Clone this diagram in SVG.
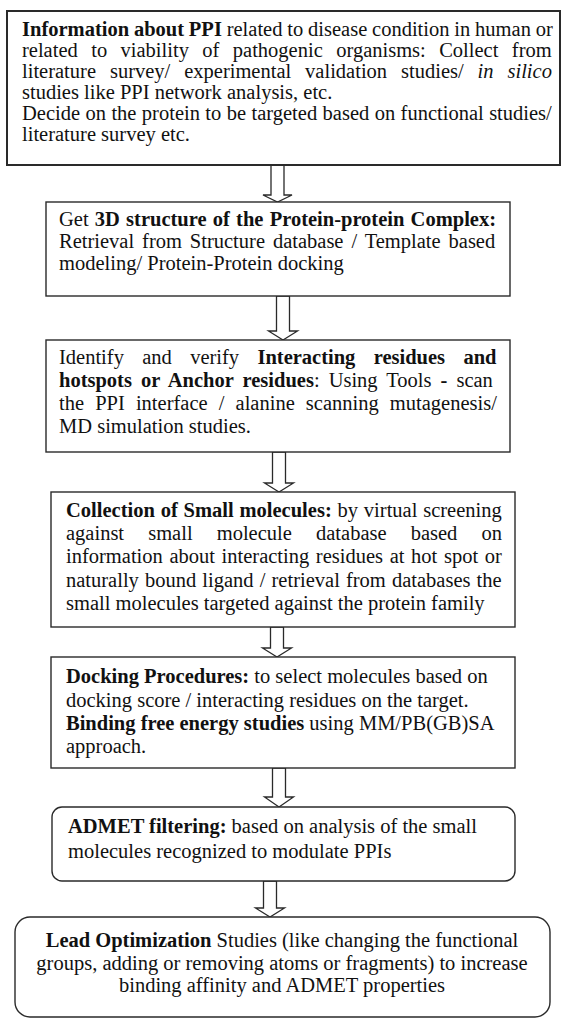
<svg xmlns="http://www.w3.org/2000/svg" width="562" height="1018" viewBox="0 0 562 1018">
<style>
text{font-family:"Liberation Serif","Times New Roman",serif;font-size:20.5px;fill:#111}
.b{font-weight:bold}
.i{font-style:italic}
.box{fill:#fff;stroke:#2a2a2a;stroke-width:1.4}
.arr{fill:#fff;stroke:#2a2a2a;stroke-width:1.3;stroke-linejoin:miter}
.c{text-anchor:middle}
</style>
<rect width="562" height="1018" fill="#fff"/>
<g id="connectors">
<polygon class="arr" points="271,165 284,165 284,195 292,195 277.5,202 263,195 271,195"/>
<polygon class="arr" points="276.5,296 289.5,296 289.5,331 297.5,331 283,340 268.5,331 276.5,331"/>
<polygon class="arr" points="272.5,452 285.5,452 285.5,483 293.5,483 279,492 264.5,483 272.5,483"/>
<polygon class="arr" points="270.5,627 283.5,627 283.5,648 291.5,648 277,657 262.5,648 270.5,648"/>
<polygon class="arr" points="272.5,768 285.5,768 285.5,797 293.5,797 279,807 264.5,797 272.5,797"/>
<polygon class="arr" points="263.5,881 276.5,881 276.5,908 284.5,908 270,917 255.5,908 263.5,908"/>
</g>
<g id="node1">
<rect class="box" x="7" y="11" width="553" height="154" style="stroke-width:2"/>
<text x="22" y="36" word-spacing="-0.3"><tspan class="b">Information about PPI</tspan> related to disease condition in human or</text>
<text x="22" y="57" word-spacing="8.3">related to viability of pathogenic organisms: Collect from</text>
<text x="22" y="78" word-spacing="8.8">literature survey/ experimental validation studies/ <tspan class="i">in silico</tspan></text>
<text x="22" y="99">studies like PPI network analysis, etc.</text>
<text x="22" y="120" word-spacing="0.3">Decide on the protein to be targeted based on functional studies/</text>
<text x="22" y="141">literature survey etc.</text>
</g>
<g id="node2">
<rect class="box" x="46" y="202" width="464" height="94"/>
<text x="59" y="226" word-spacing="1.1">Get <tspan class="b">3D structure of the Protein-protein Complex:</tspan></text>
<text x="59" y="248" word-spacing="2.8">Retrieval from Structure database / Template based</text>
<text x="59" y="270">modeling/ Protein-Protein docking</text>
</g>
<g id="node3">
<rect class="box" x="46" y="340" width="464" height="112"/>
<text x="59" y="364" word-spacing="13.2">Identify and verify <tspan class="b">Interacting residues and</tspan></text>
<text x="59" y="387" word-spacing="3.9"><tspan class="b">hotspots or Anchor residues</tspan>: Using Tools <tspan class="b">-</tspan> scan</text>
<text x="59" y="410" word-spacing="6">the PPI interface / alanine scanning mutagenesis/</text>
<text x="59" y="433">MD simulation studies.</text>
</g>
<g id="node4">
<rect class="box" x="51" y="492" width="464" height="135"/>
<text x="66" y="517" word-spacing="0.7"><tspan class="b">Collection of Small molecules:</tspan> by virtual screening</text>
<text x="66" y="540" word-spacing="19">against small molecule database based on</text>
<text x="66" y="563" word-spacing="1.5">information about interacting residues at hot spot or</text>
<text x="66" y="586.5" word-spacing="1">naturally bound ligand / retrieval from databases the</text>
<text x="66" y="609.5">small molecules targeted against the protein family</text>
</g>
<g id="node5">
<rect class="box" x="51" y="657" width="464" height="111"/>
<text x="66" y="683"><tspan class="b">Docking Procedures:</tspan> to select molecules based on</text>
<text x="66" y="706.5">docking score / interacting residues on the target.</text>
<text x="66" y="730"><tspan class="b">Binding free energy studies</tspan> using MM/PB(GB)SA</text>
<text x="66" y="753">approach.</text>
</g>
<g id="node6">
<rect class="box" x="52" y="807" width="463" height="74" rx="10"/>
<text x="68" y="833"><tspan class="b">ADMET filtering:</tspan> based on analysis of the small</text>
<text x="68" y="858">molecules recognized to modulate PPIs</text>
</g>
<g id="node7">
<rect class="box" x="15" y="917" width="535" height="100" rx="15"/>
<text class="c" x="282" y="947"><tspan class="b">Lead Optimization</tspan> Studies (like changing the functional</text>
<text class="c" x="282" y="969.5">groups, adding or removing atoms or fragments) to increase</text>
<text class="c" x="282" y="991.5">binding affinity and ADMET properties</text>
</g>
</svg>
